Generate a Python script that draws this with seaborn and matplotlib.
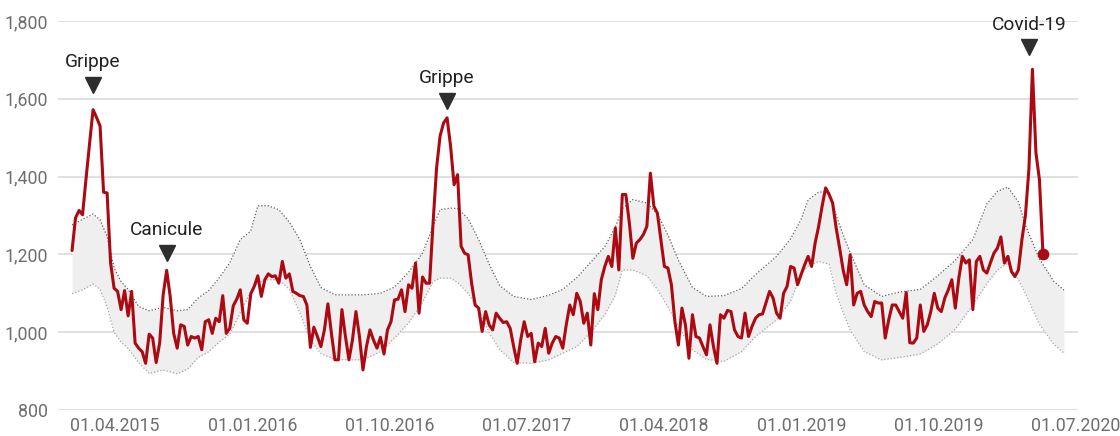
import matplotlib
matplotlib.use("Agg")
import matplotlib.pyplot as plt
import seaborn as sns
import pandas as pd
import numpy as np

# ---------------- data ----------------
start_week = "2015-01-05"
deaths = [
    1210, 1294, 1313, 1302, 1395, 1485, 1572, 1552, 1530, 1360,
    1358, 1178, 1113, 1105, 1058, 1107, 1042, 1105, 972, 959,
    950, 920, 995, 985, 922, 972, 1096, 1159, 1092, 997,
    959, 1019, 1015, 967, 989, 985, 989, 955, 1027, 1032,
    997, 1036, 1027, 1094, 997, 1010, 1068, 1085, 1109, 1032,
    1023, 1099, 1118, 1145, 1092, 1135, 1150, 1143, 1145, 1126,
    1182, 1139, 1150, 1105, 1100, 1094, 1092, 1070, 961, 1013,
    989, 963, 1006, 1073, 997, 929, 929, 1058, 989, 929,
    980, 1053, 989, 903, 963, 1006, 980, 959, 987, 944,
    1006, 1027, 1083, 1085, 1109, 1053, 1122, 1113, 1178, 1049,
    1142, 1126, 1126, 1281, 1422, 1504, 1538, 1551, 1478, 1379,
    1405, 1221, 1203, 1199, 1126, 1070, 1062, 1002, 1053, 1019,
    1006, 1049, 1036, 1025, 1027, 1010, 963, 920, 980, 1027,
    989, 997, 924, 972, 963, 1010, 946, 972, 989, 985,
    959, 1019, 1070, 1045, 1100, 1079, 1023, 1049, 967, 1099,
    1058, 1135, 1169, 1195, 1169, 1268, 1160, 1354, 1354, 1281,
    1190, 1229, 1238, 1251, 1272, 1409, 1324, 1306, 1238, 1169,
    1165, 1122, 1027, 967, 1062, 1019, 933, 1045, 989, 985,
    963, 942, 1019, 963, 920, 1045, 1036, 1056, 1053, 1006,
    989, 985, 1049, 989, 1015, 1036, 1045, 1047, 1076, 1105,
    1088, 1049, 1036, 1100, 1118, 1169, 1165, 1122, 1148, 1173,
    1195, 1169, 1229, 1272, 1324, 1371, 1354, 1332, 1268, 1216,
    1160, 1122, 1199, 1070, 1100, 1105, 1070, 1053, 1040, 1079,
    1075, 1075, 985, 1032, 1070, 1070, 1053, 1036, 1102, 973,
    972, 985, 1070, 1002, 1019, 1053, 1100, 1062, 1053, 1088,
    1109, 1135, 1062, 1139, 1195, 1178, 1186, 1058, 1182, 1195,
    1160, 1152, 1178, 1203, 1216, 1245, 1178, 1195, 1156, 1143,
    1160, 1238, 1300, 1420, 1676, 1461, 1392, 1202,
]

band_week = [0, 3, 6, 8, 10, 12, 14, 16, 19, 22, 26, 30, 33, 36, 39, 42, 45, 48, 51, 53,
             56, 59, 62, 65, 68, 71, 75, 79, 83, 88, 92, 96, 100, 103, 105, 108, 110, 113,
             116, 119, 122, 126, 131, 136, 140, 144, 148, 152, 155, 157, 160, 164, 167,
             170, 173, 177, 181, 186, 191, 195, 201, 205, 208, 210, 213, 216, 218, 220,
             222, 226, 231, 236, 242, 247, 252, 257, 261, 264, 267, 270, 272, 276, 280, 283]
band_upper = [1276, 1290, 1304, 1289, 1246, 1165, 1130, 1110, 1066, 1055, 1064, 1055, 1058,
              1088, 1107, 1140, 1178, 1238, 1260, 1325, 1325, 1315, 1283, 1238, 1169, 1115,
              1096, 1096, 1096, 1100, 1116, 1154, 1203, 1272, 1315, 1319, 1318, 1292, 1238,
              1175, 1120, 1092, 1084, 1095, 1110, 1140, 1180, 1220, 1270, 1318, 1341, 1332,
              1304, 1250, 1185, 1115, 1092, 1094, 1112, 1148, 1195, 1240, 1290, 1340, 1360,
              1362, 1300, 1250, 1205, 1122, 1092, 1103, 1110, 1145, 1185, 1238, 1330, 1362,
              1373, 1335, 1275, 1188, 1132, 1108]
band_lower = [1099, 1109, 1124, 1110, 1066, 1000, 975, 958, 922, 894, 903, 893, 905, 935,
              950, 975, 995, 1050, 1105, 1128, 1135, 1135, 1110, 1050, 980, 945, 930, 929,
              929, 950, 985, 1024, 1077, 1130, 1139, 1139, 1128, 1100, 1058, 999, 955, 922,
              920, 929, 946, 963, 1000, 1045, 1095, 1160, 1160, 1145, 1110, 1065, 1015, 955,
              930, 925, 950, 989, 1032, 1080, 1150, 1170, 1182, 1175, 1100, 1050, 1006, 950,
              929, 935, 944, 970, 1008, 1070, 1125, 1160, 1178, 1135, 1100, 1020, 970, 946]

tick_dates = ["2015-04-01", "2016-01-01", "2016-10-01", "2017-07-01",
              "2018-04-01", "2019-01-01", "2019-10-01", "2020-07-01"]
tick_labels = ["01.04.2015", "01.01.2016", "01.10.2016", "01.07.2017",
               "01.04.2018", "01.01.2019", "01.10.2019", "01.07.2020"]
y_ticks = [800, 1000, 1200, 1400, 1600, 1800]

# label, week index, triangle level
events = [("Grippe", 6, 1636), ("Canicule", 27, 1204),
          ("Grippe", 107, 1595), ("Covid-19", 273, 1732)]

# ---------------- build frames ----------------
t0 = pd.Timestamp(start_week)
df = pd.DataFrame({"date": t0 + pd.to_timedelta(np.arange(len(deaths)) * 7, unit="D"),
                   "deaths": deaths})
bd = pd.DataFrame({"date": t0 + pd.to_timedelta(np.array(band_week) * 7, unit="D"),
                   "upper": band_upper, "lower": band_lower})

sns.set_theme(style="white")
plt.rcParams["font.family"] = ["Roboto", "DejaVu Sans"]

fig = plt.figure(figsize=(11.2, 4.36), dpi=100)
ax = fig.add_axes([0.0518, 0.0596, 0.9107, 0.8922])

ax.set_ylim(800, 1800)
ax.set_xlim(pd.Timestamp("2014-12-08"), pd.Timestamp("2020-07-06"))

for yv in y_ticks:
    ax.axhline(yv, color="#dadada", lw=1.2, zorder=0)

ax.fill_between(bd["date"], bd["lower"], bd["upper"], color="#efefef", lw=0, zorder=1)
sns.lineplot(data=bd, x="date", y="upper", ax=ax, color="#5e5e5e", lw=0.9,
             linestyle=(0, (1, 1.6)), zorder=2)
sns.lineplot(data=bd, x="date", y="lower", ax=ax, color="#a8a8a8", lw=0.9,
             linestyle=(0, (1, 1.6)), zorder=2)

sns.lineplot(data=df, x="date", y="deaths", ax=ax, color="#ab0a12", lw=2.2, zorder=4)
last = df.iloc[-1]
ax.scatter([last["date"]], [last["deaths"]], s=55, color="#ab0a12", zorder=5)

for label, wk, lvl in events:
    d = t0 + pd.Timedelta(days=7 * wk)
    ax.plot([d], [lvl], marker="v", markersize=11, color="#2e2e2e", zorder=6)
    ax.annotate(label, xy=(d, lvl), xytext=(0, 16.5), textcoords="offset points",
                ha="center", va="center", fontsize=13.8, color="#222222")

ax.set_yticks(y_ticks)
ax.set_yticklabels([f"{v:,}" for v in y_ticks])
ax.set_xticks(pd.to_datetime(tick_dates))
ax.set_xticklabels(tick_labels)
ax.tick_params(axis="both", length=0, labelsize=12.8, colors="#6e6e6e")
ax.tick_params(axis="y", pad=7)
ax.tick_params(axis="x", pad=5)
ax.set_xlabel("")
ax.set_ylabel("")
for s in ax.spines.values():
    s.set_visible(False)

fig.savefig("out.png", dpi=100)
